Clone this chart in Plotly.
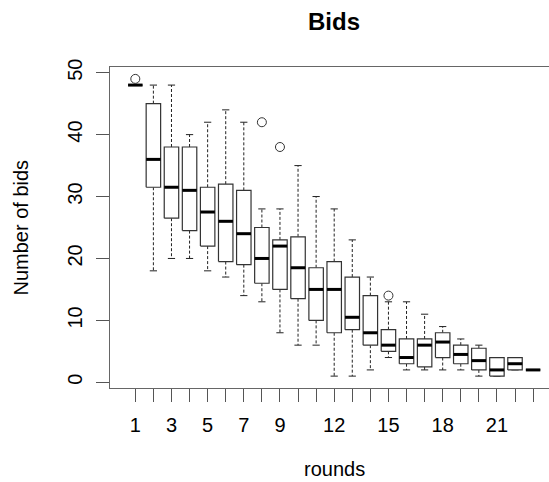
import plotly.graph_objects as go

# ---- data ----
rounds = list(range(1, 24))
upper_whisker = [48, 48, 48, 40, 42, 44, 42, 28, 28, 35, 30, 28, 23, 17, 13, 13, 11, 9, 7, 6, 4, 4, 2]
q3 = [48, 45, 38, 38, 31.5, 32, 31, 25, 23, 23.5, 18.5, 19.5, 17, 14, 8.5, 7, 7, 8, 6, 5.5, 4, 4, 2]
median = [48, 36, 31.5, 31, 27.5, 26, 24, 20, 22, 18.5, 15, 15, 10.5, 8, 6, 4, 6, 6.5, 4.5, 3.5, 2, 3, 2]
q1 = [48, 31.5, 26.5, 24.5, 22, 19.5, 19, 16, 15, 13.5, 10, 8, 8.5, 6, 5, 3, 2.5, 4, 3, 2, 1, 2, 2]
lower_whisker = [48, 18, 20, 20, 18, 17, 14, 13, 8, 6, 6, 1, 1, 2, 4, 2, 2, 2, 2, 1, 1, 2, 2]
outlier_rounds = [1, 8, 9, 15]
outlier_values = [49, 42, 38, 14]
x_tick_labels = {1: "1", 3: "3", 5: "5", 7: "7", 9: "9", 12: "12", 15: "15", 18: "18", 21: "21"}
y_ticks = [0, 10, 20, 30, 40, 50]

BOXHALF = 0.4
STAPLEHALF = 0.2

bx, by, mx, my, wx, wy, sx, sy = [], [], [], [], [], [], [], []
for r, lo, a, m, b, hi in zip(rounds, lower_whisker, q1, median, q3, upper_whisker):
    bx += [r - BOXHALF, r + BOXHALF, r + BOXHALF, r - BOXHALF, r - BOXHALF, None]
    by += [a, a, b, b, a, None]
    mx += [r - BOXHALF, r + BOXHALF, None]
    my += [m, m, None]
    if hi > b:
        wx += [r, r, None]
        wy += [b, hi, None]
    if lo < a:
        wx += [r, r, None]
        wy += [a, lo, None]
    sx += [r - STAPLEHALF, r + STAPLEHALF, None, r - STAPLEHALF, r + STAPLEHALF, None]
    sy += [hi, hi, None, lo, lo, None]

fig = go.Figure()
fig.add_trace(go.Scatter(x=wx, y=wy, mode="lines",
                         line=dict(color="#222", width=1, dash="3px,2px"), hoverinfo="skip"))
fig.add_trace(go.Scatter(x=sx, y=sy, mode="lines",
                         line=dict(color="#222", width=1), hoverinfo="skip"))
fig.add_trace(go.Scatter(x=bx, y=by, mode="lines", fill="toself", fillcolor="white",
                         line=dict(color="#333", width=1.2), hoverinfo="skip"))
fig.add_trace(go.Scatter(x=mx, y=my, mode="lines",
                         line=dict(color="black", width=3), hoverinfo="skip"))
fig.add_trace(go.Scatter(x=outlier_rounds, y=outlier_values, mode="markers",
                         marker=dict(symbol="circle-open", size=9, color="#333",
                                     line=dict(width=1)), hoverinfo="skip"))

FONT = "Liberation Sans, Arial, sans-serif"
fig.update_layout(
    width=549, height=482,
    margin=dict(l=110, r=0, t=67, b=94),
    paper_bgcolor="white", plot_bgcolor="white",
    showlegend=False,
    font=dict(family=FONT, size=20, color="black"),
    xaxis=dict(
        range=[-0.4, 23.88],
        tickvals=rounds,
        ticktext=[x_tick_labels.get(r, "") for r in rounds],
        ticks="outside", ticklen=13, tickcolor="#555", tickwidth=1,
        showline=True, linecolor="#666", linewidth=1, mirror=True,
        showgrid=False, zeroline=False,
        tickfont=dict(size=20),
        ticklabelstandoff=6,
    ),
    yaxis=dict(
        range=[-0.92, 50.92],
        tickvals=y_ticks,
        ticks="outside", ticklen=13, tickcolor="#555", tickwidth=1,
        showline=True, linecolor="#666", linewidth=1, mirror=False,
        showgrid=False, zeroline=False,
        tickangle=-90,
        tickfont=dict(size=20),
        ticklabelstandoff=6,
    ),
    annotations=[
        dict(text="<b>Bids</b>", xref="x", x=12, yref="paper", y=1, yanchor="middle",
             yshift=67 - 21, showarrow=False, font=dict(size=24, family=FONT)),
        dict(text="rounds", xref="x", x=12, yref="paper", y=0, yanchor="middle",
             yshift=-(469 - 388), showarrow=False, font=dict(size=20, family=FONT)),
        dict(text="Number of bids", xref="paper", x=0, xanchor="center", xshift=20 - 110,
             yref="paper", y=0.5, yanchor="middle", textangle=-90,
             showarrow=False, font=dict(size=20, family=FONT)),
    ],
)

fig.write_html(
    "out.html",
    config={"displayModeBar": False},
    post_script="document.body.style.margin='0';document.body.style.overflow='hidden';",
)
